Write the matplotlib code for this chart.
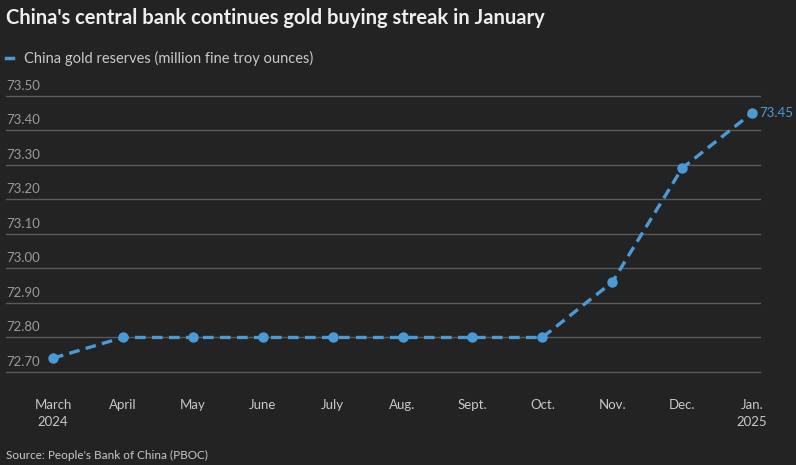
import matplotlib.pyplot as plt
import matplotlib.transforms as mtransforms
from matplotlib.lines import Line2D

months = ["March\n2024", "April", "May", "June", "July", "Aug.",
          "Sept.", "Oct.", "Nov.", "Dec.", "Jan.\n2025"]
reserves = [72.74, 72.80, 72.80, 72.80, 72.80, 72.80,
            72.80, 72.80, 72.96, 73.29, 73.45]
y_ticks = [72.70, 72.80, 72.90, 73.00, 73.10, 73.20, 73.30, 73.40, 73.50]

BG = "#232323"
LINE = "#4a9ad8"
GRID = "#5a5a5a"
TICK = "#9a9a9a"

W, H = 796, 465


def main():
    plt.rcParams["font.family"] = ["Lato", "DejaVu Sans"]
    fig = plt.figure(figsize=(W / 100, H / 100), dpi=100, facecolor=BG)

    left, right = 6, 760
    top, bottom = 95.7, 372
    ax = fig.add_axes([left / W, 1 - bottom / H, (right - left) / W, (bottom - top) / H])
    ax.set_facecolor(BG)
    for s in ax.spines.values():
        s.set_visible(False)

    x = list(range(len(months)))
    ax.plot(x, reserves, color=LINE, linestyle=(0, (3.2, 1.9)), linewidth=2.4,
            marker="o", markersize=6.5, clip_on=False, zorder=3)

    ax.set_xlim(-0.672, 10.114)
    ax.set_ylim(72.70, 73.50)
    ax.set_xticks([])
    ax.set_yticks([])

    ytrans = mtransforms.blended_transform_factory(ax.transAxes, ax.transData)
    for v in y_ticks:
        ax.axhline(v, color=GRID, linewidth=1, zorder=1, clip_on=False)
        ax.text(0, v + 0.012, f"{v:.2f}", transform=ytrans,
                ha="left", va="bottom", fontsize=9.5, color=TICK)

    xtrans = mtransforms.blended_transform_factory(ax.transData, ax.transAxes)
    for i, m in enumerate(months):
        ax.text(i, -0.099, m, transform=xtrans,
                ha="center", va="top", fontsize=9.5, color="#c8c8c8", linespacing=1.45)

    ax.annotate(f"{reserves[-1]:.2f}", (x[-1], reserves[-1]), xytext=(5, 0),
                textcoords="offset points", ha="left", va="center",
                fontsize=9.5, color=LINE)

    fig.text(6 / W, 1 - 18 / H, "China's central bank continues gold buying streak in January",
             ha="left", va="center", fontsize=14.5, fontweight="bold", color="#eeeeee")
    fig.add_artist(Line2D([6 / W, 13 / W], [1 - 58 / H, 1 - 58 / H],
                          color=LINE, linewidth=2.5, transform=fig.transFigure))
    fig.text(24 / W, 1 - 58 / H, "China gold reserves (million fine troy ounces)",
             ha="left", va="center", fontsize=10.5, color="#c8c8c8")
    fig.text(6 / W, 1 - 455 / H, "Source: People's Bank of China (PBOC)",
             ha="left", va="center", fontsize=8.5, color="#c8c8c8")

    fig.savefig("out.png", dpi=100, facecolor=BG)
    plt.close(fig)


if __name__ == "__main__":
    main()
